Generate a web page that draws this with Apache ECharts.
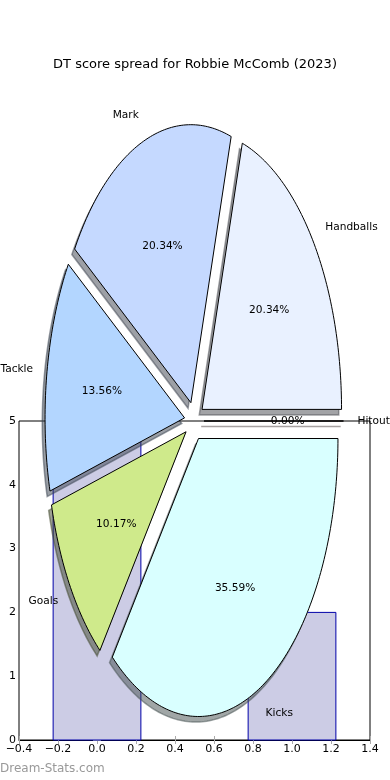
<!DOCTYPE html>
<html>
<head>
<meta charset="utf-8">
<script src="https://cdn.jsdelivr.net/npm/echarts@6/dist/echarts.min.js"></script>
<style>html,body{margin:0;padding:0;background:#fff;}#c{width:390px;height:780px;}</style>
</head>
<body>
<div id="c"></div>
<script>
// ---- data ----
const sliceLabels = ['Handballs', 'Mark', 'Tackle', 'Goals', 'Kicks', 'Hitout'];
const sliceCounts = [12, 12, 8, 6, 21, 0];
const sliceColors = ['#E9F1FF', '#C5D9FF', '#B3D6FF', '#CFEA8B', '#D9FFFF', '#FFE0E0'];
const barX = [0, 1];
const barHeights = [5, 2];
const xTickMin = -0.4, xTickMax = 1.4, xTickStep = 0.2;
const yTickMin = 0, yTickMax = 5, yTickStep = 1;
const titleText = 'DT score spread for Robbie McComb (2023)';

// ---- layout (pixels / style) ----
const FONT = 'DejaVu Sans';
const PIE_CX = 194.2, PIE_CY = 421, PIE_RX = 139.5, PIE_RY = 278;
const EXPLODE = 0.07, SHADOW_DX = -0.02, SHADOW_DY = -0.02;
const BAR_W = 0.45;
const W = 390, H = 780;
const LABEL_FONT = '10.6px "' + FONT + '"';

const total = sliceCounts.reduce((a, b) => a + b, 0);
const cum = [0];
sliceCounts.forEach(v => cum.push(cum[cum.length - 1] + v));
const rad = d => d * Math.PI / 180;

function wedge(i, dx, dy, api) {
  const a0 = cum[i] / total * 360, a1 = cum[i + 1] / total * 360;
  const mid = rad((a0 + a1) / 2);
  const ox = EXPLODE * Math.cos(mid) + dx, oy = EXPLODE * Math.sin(mid) + dy;
  const pts = [api.coord([ox, oy])];
  const n = Math.max(2, Math.ceil(a1 - a0));
  for (let k = 0; k <= n; k++) {
    const a = rad(a0 + (a1 - a0) * k / n);
    pts.push(api.coord([ox + Math.cos(a), oy + Math.sin(a)]));
  }
  return pts;
}
function darker(hex) {
  const r = parseInt(hex.slice(1, 3), 16), g = parseInt(hex.slice(3, 5), 16), b = parseInt(hex.slice(5, 7), 16);
  return 'rgba(' + Math.round(r * 0.3) + ',' + Math.round(g * 0.3) + ',' + Math.round(b * 0.3) + ',0.5)';
}

const chart = echarts.init(document.getElementById('c'), null, { renderer: 'canvas' });
const fmtX = v => (v < 0 ? '\u2212' : '') + Math.abs(v).toFixed(1);
const sliceData = sliceCounts.map((v, i) => [0, 0, i]);

chart.setOption({
  animation: false,
  backgroundColor: '#fff',
  title: {
    text: titleText, left: 'center', top: 53,
    textStyle: { fontFamily: FONT, fontSize: 13, fontWeight: 'normal', color: '#000' }
  },
  grid: [
    { left: 19, right: W - 370, top: 421, bottom: H - 740, show: true, borderColor: '#000', borderWidth: 1, backgroundColor: 'transparent' },
    { left: 0, right: 0, top: 0, bottom: 0 }
  ],
  xAxis: [
    {
      gridIndex: 0, type: 'value', min: xTickMin, max: xTickMax, interval: xTickStep,
      axisLine: { show: true, lineStyle: { color: '#000' } },
      axisTick: { show: true, inside: true, length: 4, lineStyle: { color: '#aaa' } },
      axisLabel: { formatter: fmtX, margin: 4, color: '#000', fontFamily: FONT, fontSize: 11, showMinLabel: true, showMaxLabel: true },
      splitLine: { show: false }
    },
    {
      gridIndex: 0, type: 'value', position: 'top', min: xTickMin, max: xTickMax, interval: xTickStep,
      axisLine: { show: false }, axisTick: { show: true, inside: true, length: 4, lineStyle: { color: '#aaa' } },
      axisLabel: { show: false }, splitLine: { show: false }
    },
    { gridIndex: 1, type: 'value', show: false, min: -PIE_CX / PIE_RX, max: (W - PIE_CX) / PIE_RX }
  ],
  yAxis: [
    {
      gridIndex: 0, type: 'value', min: yTickMin, max: yTickMax, interval: yTickStep,
      axisLine: { show: true, lineStyle: { color: '#000' } },
      axisTick: { show: true, inside: true, length: 4, lineStyle: { color: '#aaa' } },
      axisLabel: { margin: 3, color: '#000', fontFamily: FONT, fontSize: 11 },
      splitLine: { show: false }
    },
    {
      gridIndex: 0, type: 'value', position: 'right', min: yTickMin, max: yTickMax, interval: yTickStep,
      axisLine: { show: false }, axisTick: { show: true, inside: true, length: 4, lineStyle: { color: '#aaa' } },
      axisLabel: { show: false }, splitLine: { show: false }
    },
    { gridIndex: 1, type: 'value', show: false, min: -(H - PIE_CY) / PIE_RY, max: PIE_CY / PIE_RY }
  ],
  graphic: [
    { type: 'text', left: 0, top: 763, z: 10, style: { text: 'Dream-Stats.com', fill: '#999', font: '12px "' + FONT + '"' } }
  ],
  series: [
    {
      type: 'custom', xAxisIndex: 0, yAxisIndex: 0, z: 1, clip: false,
      data: barX.map((x, i) => [x, barHeights[i]]),
      renderItem: (params, api) => {
        const x = api.value(0), h = api.value(1);
        const p0 = api.coord([x - BAR_W / 2, h]), p1 = api.coord([x + BAR_W / 2, 0]);
        return {
          type: 'rect',
          shape: { x: p0[0], y: p0[1], width: p1[0] - p0[0], height: p1[1] - p0[1] },
          style: { fill: '#CCCCE5', stroke: '#0000A8', lineWidth: 1 }
        };
      }
    },
    {
      type: 'custom', xAxisIndex: 2, yAxisIndex: 2, z: 5, clip: false, silent: true,
      data: sliceData,
      renderItem: (params, api) => {
        const i = params.dataIndex;
        const c = darker(sliceColors[i]);
        return { type: 'polygon', shape: { points: wedge(i, SHADOW_DX, SHADOW_DY, api) }, style: { fill: c, stroke: c, lineWidth: 1.5 } };
      }
    },
    {
      type: 'custom', xAxisIndex: 2, yAxisIndex: 2, z: 6, clip: false, silent: true,
      data: sliceData,
      renderItem: (params, api) => {
        const i = params.dataIndex;
        return { type: 'polygon', shape: { points: wedge(i, 0, 0, api) }, style: { fill: sliceColors[i], stroke: '#000', lineWidth: 1 } };
      }
    },
    {
      type: 'custom', xAxisIndex: 2, yAxisIndex: 2, z: 7, clip: false, silent: true,
      data: sliceData,
      renderItem: (params, api) => {
        const i = params.dataIndex;
        const a0 = cum[i] / total * 360, a1 = cum[i + 1] / total * 360;
        const mid = rad((a0 + a1) / 2);
        const ox = EXPLODE * Math.cos(mid), oy = EXPLODE * Math.sin(mid);
        const lx = ox + 1.1 * Math.cos(mid), ly = oy + 1.1 * Math.sin(mid);
        const px = ox + 0.6 * Math.cos(mid), py = oy + 0.6 * Math.sin(mid);
        const lp = api.coord([lx, ly]), pp = api.coord([px, py]);
        const pct = (sliceCounts[i] / total * 100).toFixed(2) + '%';
        return {
          type: 'group',
          children: [
            { type: 'text', x: lp[0], y: lp[1], style: { text: sliceLabels[i], fill: '#000', font: LABEL_FONT, align: lx > 0 ? 'left' : 'right', verticalAlign: 'middle' } },
            { type: 'text', x: pp[0], y: pp[1], style: { text: pct, fill: '#000', font: LABEL_FONT, align: 'center', verticalAlign: 'middle' } }
          ]
        };
      }
    }
  ]
});
</script>
</body>
</html>
